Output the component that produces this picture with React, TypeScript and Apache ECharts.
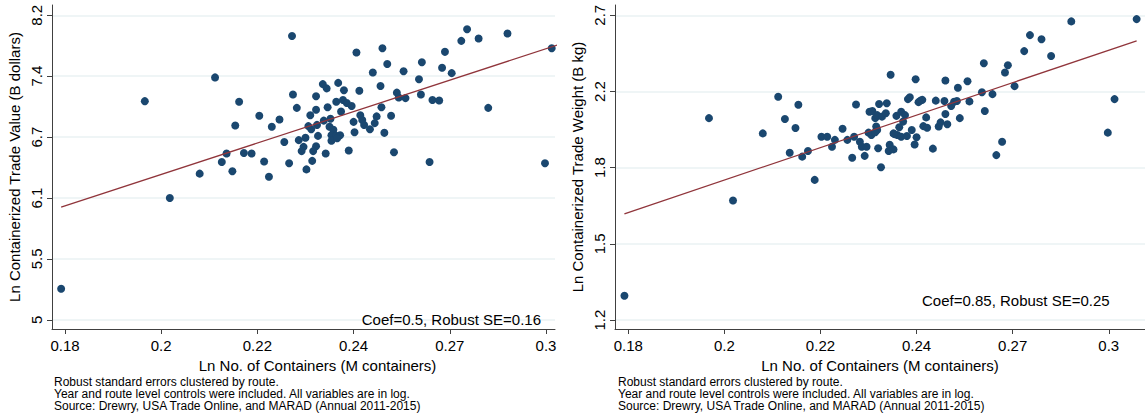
import React, { useEffect, useRef } from "react";
import * as echarts from "echarts";

// x: ln No. of containers ; y: ln containerized trade value / weight
const xTicks = [-1.7, -1.6, -1.5, -1.4, -1.3, -1.2];
const xTickLabels = ["0.18", "0.2", "0.22", "0.24", "0.27", "0.3"];
const valueTicks = [1.6, 1.7, 1.8, 1.9, 2.0, 2.1];
const valueTickLabels = ["5", "5.5", "6.1", "6.7", "7.4", "8.2"];
const weightTicks = [0.2, 0.4, 0.6, 0.8, 1.0];
const weightTickLabels = ["1.2", "1.5", "1.8", "2.2", "2.7"];

const valueX = [
  -1.704, -1.617, -1.591, -1.56, -1.544, -1.519, -1.537, -1.532, -1.526, -1.523, -1.514,
  -1.464, -1.397, -1.37, -1.365, -1.38, -1.348, -1.432, -1.428, -1.416, -1.41, -1.394,
  -1.372, -1.355, -1.353, -1.346, -1.463, -1.439, -1.459, -1.427, -1.439, -1.418, -1.411,
  -1.407, -1.402, -1.413, -1.371, -1.498, -1.477, -1.485, -1.445, -1.447, -1.444, -1.438,
  -1.431, -1.424, -1.425, -1.421, -1.393, -1.391, -1.4, -1.389, -1.383, -1.376, -1.378,
  -1.361, -1.399, -1.368, -1.457, -1.45, -1.437, -1.423, -1.418, -1.414, -1.423, -1.417,
  -1.472, -1.452, -1.439, -1.454, -1.442, -1.506, -1.429, -1.405, -1.358, -1.493, -1.467,
  -1.443, -1.449, -1.488, -1.282, -1.288, -1.27, -1.24, -1.305, -1.329, -1.308, -1.298,
  -1.332, -1.33, -1.318, -1.311, -1.26, -1.194, -1.321, -1.201,
];
const valueY = [
  1.651, 1.959, 1.8, 1.84, 1.998, 1.958, 1.859, 1.873, 1.844, 1.919, 1.874,
  2.066, 2.039, 2.046, 2.02, 2.006, 2.008, 1.987, 1.98, 1.989, 1.977, 1.976,
  1.984, 1.973, 1.965, 1.964, 1.97, 1.967, 1.948, 1.949, 1.945, 1.958, 1.961,
  1.956, 1.951, 1.942, 1.949, 1.935, 1.929, 1.917, 1.936, 1.918, 1.913, 1.92,
  1.927, 1.93, 1.917, 1.912, 1.936, 1.928, 1.925, 1.92, 1.913, 1.934, 1.923,
  1.935, 1.908, 1.907, 1.895, 1.899, 1.902, 1.903, 1.902, 1.903, 1.894, 1.898,
  1.892, 1.884, 1.885, 1.877, 1.877, 1.873, 1.873, 1.878, 1.875, 1.86, 1.857,
  1.861, 1.847, 1.835, 2.077, 2.058, 2.062, 2.07, 2.04, 2.023, 2.014, 2.005,
  1.995, 1.97, 1.961, 1.96, 1.948, 2.046, 1.859, 1.857,
];

const weightX = [
  -1.704, -1.616, -1.591, -1.56, -1.544, -1.537, -1.523, -1.526, -1.532, -1.519,
  -1.513, -1.506, -1.499, -1.493, -1.488, -1.485, -1.477, -1.472, -1.467, -1.463,
  -1.465, -1.459, -1.457, -1.454, -1.452, -1.45, -1.449, -1.446, -1.443, -1.441,
  -1.439, -1.436, -1.431, -1.432, -1.442, -1.441, -1.447, -1.44, -1.437, -1.427,
  -1.428, -1.429, -1.424, -1.421, -1.423, -1.418, -1.416, -1.412, -1.414, -1.42,
  -1.416, -1.41, -1.409, -1.407, -1.405, -1.4, -1.402, -1.401, -1.398, -1.396,
  -1.394, -1.39, -1.393, -1.389, -1.383, -1.38, -1.377, -1.375, -1.37, -1.371,
  -1.37, -1.368, -1.364, -1.361, -1.357, -1.355, -1.347, -1.358, -1.345, -1.329,
  -1.332, -1.321, -1.33, -1.308, -1.305, -1.298, -1.288, -1.282, -1.27, -1.26,
  -1.239, -1.171, -1.194, -1.201, -1.311, -1.317, -1.424, -1.443,
];
const weightY = [
  0.264, 0.73, 0.514, 0.69, 0.786, 0.728, 0.765, 0.704, 0.639, 0.629,
  0.644, 0.568, 0.681, 0.681, 0.655, 0.673, 0.702, 0.673, 0.626, 0.766,
  0.681, 0.668, 0.655, 0.631, 0.655, 0.692, 0.747, 0.749, 0.73, 0.738,
  0.767, 0.734, 0.769, 0.743, 0.708, 0.699, 0.686, 0.651, 0.601, 0.844,
  0.66, 0.644, 0.648, 0.736, 0.688, 0.706, 0.747, 0.738, 0.721, 0.686,
  0.681, 0.683, 0.78, 0.785, 0.699, 0.68, 0.661, 0.832, 0.772, 0.776,
  0.778, 0.732, 0.709, 0.705, 0.65, 0.776, 0.708, 0.719, 0.829, 0.775,
  0.741, 0.714, 0.762, 0.773, 0.81, 0.73, 0.827, 0.775, 0.774, 0.749,
  0.798, 0.793, 0.874, 0.85, 0.869, 0.814, 0.906, 0.948, 0.937, 0.893,
  0.984, 0.99, 0.78, 0.692, 0.668, 0.633, 0.69, 0.693,
];

// fitted lines (endpoints)
const valueFitX = [-1.704, -1.171];
const valueFitY = [1.785, 2.06];
const weightFitX = [-1.704, -1.171];
const weightFitY = [0.479, 0.933];

const notes = [
  "Robust standard errors clustered by route.",
  "Year and route level controls were included. All variables are in log.",
  "Source: Drewry, USA Trade Online, and MARAD (Annual 2011-2015)",
];
const valueCoefText = "Coef=0.5, Robust SE=0.16";
const weightCoefText = "Coef=0.85, Robust SE=0.25";

const FONT = "'Liberation Sans', Arial, Helvetica, sans-serif";
const DOT = "#1a476f";
const FIT = "#90353b";
const AXIS = "#404040";
const GRID = "#eaf2f3";

function labelFor(ticks: number[], labels: string[]) {
  return (v: number) => {
    let best = 0;
    for (let i = 1; i < ticks.length; i++) {
      if (Math.abs(ticks[i] - v) < Math.abs(ticks[best] - v)) best = i;
    }
    return labels[best];
  };
}

export default function App() {
  const ref = useRef<HTMLDivElement>(null);
  useEffect(() => {
    if (!ref.current) return;
    const chart = echarts.init(ref.current, null, { renderer: "svg" });

    const xAxisBase = (gridIndex: number, min: number, max: number) => ({
      type: "value",
      gridIndex,
      min,
      max,
      name: "Ln No. of Containers (M containers)",
      nameLocation: "middle",
      nameGap: 26,
      nameTextStyle: {
        fontFamily: FONT,
        fontSize: 15,
        color: "#000",
        padding: gridIndex === 0 ? [0, 0, 0, 28] : 0,
      },
      axisLine: { show: true, lineStyle: { color: AXIS, width: 1 } },
      axisTick: {
        show: true,
        length: 5,
        customValues: xTicks,
        lineStyle: { color: AXIS },
      },
      axisLabel: {
        customValues: xTicks,
        formatter: labelFor(xTicks, xTickLabels),
        fontFamily: FONT,
        fontSize: 15,
        color: "#000",
        margin: 9,
      },
      splitLine: { show: false },
    });

    const yAxisBase = (
      gridIndex: number,
      min: number,
      max: number,
      ticks: number[],
      labels: string[],
      name: string
    ) => ({
      type: "value",
      gridIndex,
      min,
      max,
      name,
      nameLocation: "middle",
      nameGap: 30,
      nameTextStyle: { fontFamily: FONT, fontSize: 15, color: "#000" },
      axisLine: { show: true, lineStyle: { color: AXIS, width: 1 } },
      axisTick: {
        show: true,
        length: 5,
        customValues: ticks,
        lineStyle: { color: AXIS },
      },
      axisLabel: {
        customValues: ticks,
        formatter: labelFor(ticks, labels),
        rotate: 90,
        fontFamily: FONT,
        fontSize: 15,
        color: "#000",
        margin: 8,
      },
      splitLine: { show: true, lineStyle: { color: GRID, width: 1.5 } },
    });

    const noteTexts = (x0: number) =>
      notes.map((t, i) => ({
        type: "text",
        x: x0,
        y: 382 + i * 12,
        style: {
          text: t,
          fontFamily: FONT,
          fontSize: 12,
          fill: "#000",
          verticalAlign: "middle",
        },
      }));

    chart.setOption({
      animation: false,
      backgroundColor: "#fff",
      grid: [
        { left: 52, top: 5, width: 503, height: 324 },
        { left: 615, top: 5, width: 530, height: 324 },
      ],
      xAxis: [xAxisBase(0, -1.7135, -1.1906), xAxisBase(1, -1.7138, -1.1623)],
      yAxis: [
        yAxisBase(0, 1.5849, 2.1169, valueTicks, valueTickLabels, "Ln Containerized Trade Value (B dollars)"),
        yAxisBase(1, 0.1766, 1.027, weightTicks, weightTickLabels, "Ln Containerized Trade Weight (B kg)"),
      ],
      series: [
        {
          type: "scatter",
          xAxisIndex: 0,
          yAxisIndex: 0,
          symbolSize: 8,
          itemStyle: { color: DOT, opacity: 1 },
          data: valueX.map((x, i) => [x, valueY[i]]),
        },
        {
          type: "line",
          xAxisIndex: 0,
          yAxisIndex: 0,
          symbol: "none",
          lineStyle: { color: FIT, width: 1.3 },
          data: valueFitX.map((x, i) => [x, valueFitY[i]]),
        },
        {
          type: "scatter",
          xAxisIndex: 1,
          yAxisIndex: 1,
          symbolSize: 8,
          itemStyle: { color: DOT, opacity: 1 },
          data: weightX.map((x, i) => [x, weightY[i]]),
        },
        {
          type: "line",
          xAxisIndex: 1,
          yAxisIndex: 1,
          symbol: "none",
          lineStyle: { color: FIT, width: 1.3 },
          data: weightFitX.map((x, i) => [x, weightFitY[i]]),
        },
      ],
      graphic: [
        {
          type: "text",
          x: 541,
          y: 319,
          z: 100,
          style: {
            text: valueCoefText,
            fontFamily: FONT,
            fontSize: 15,
            fill: "#000",
            align: "right",
            verticalAlign: "middle",
          },
        },
        {
          type: "text",
          x: 922,
          y: 300,
          z: 100,
          style: {
            text: weightCoefText,
            fontFamily: FONT,
            fontSize: 15,
            fill: "#000",
            align: "left",
            verticalAlign: "middle",
          },
        },
        ...noteTexts(54),
        ...noteTexts(618),
      ],
    });
    return () => chart.dispose();
  }, []);
  return (
    <div
      ref={ref}
      style={{ position: "fixed", left: 0, top: 0, width: 1145, height: 418 }}
    />
  );
}
